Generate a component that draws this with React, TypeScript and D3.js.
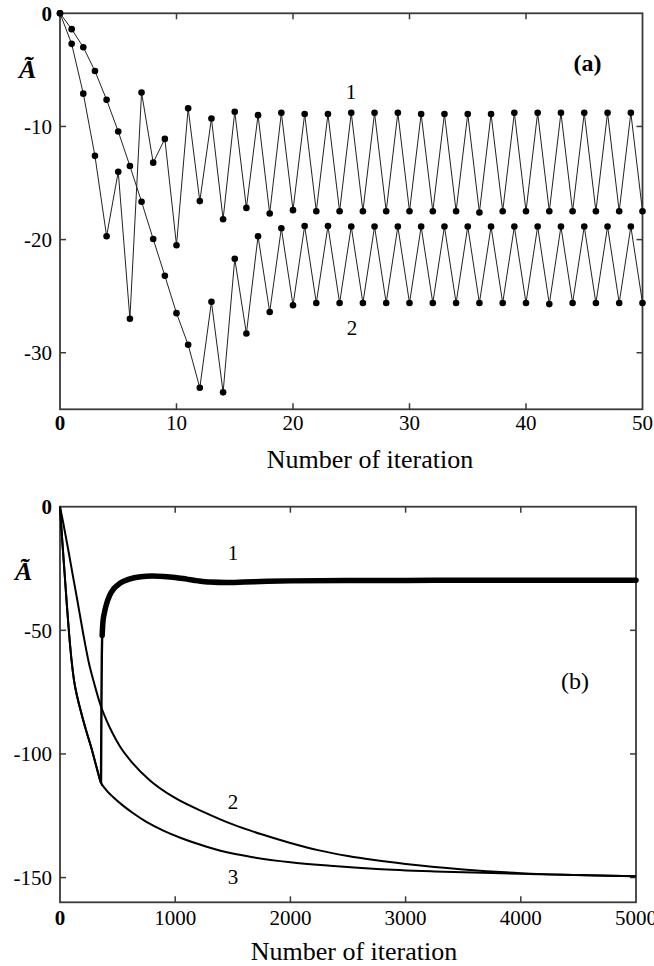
import React from 'react';
import * as d3 from 'd3';

const FONT = "'Liberation Serif', 'Times New Roman', serif";

// panel (a): value of A~ at iterations 0..50
const curveA1 = [
  0, -2.7, -7.1, -12.6, -19.7, -14.0, -27.0, -7.0, -13.2, -11.1,
  -20.5, -8.4, -16.6, -9.3, -18.2, -8.7, -17.2, -9.0, -17.7, -8.8,
  -17.4, -8.9, -17.5, -8.9, -17.5, -8.8, -17.5, -8.8, -17.5, -8.8,
  -17.5, -8.9, -17.5, -8.9, -17.5, -8.9, -17.6, -8.9, -17.5, -8.8,
  -17.5, -8.8, -17.5, -8.8, -17.5, -8.8, -17.5, -8.8, -17.5, -8.8,
  -17.5,
];
const curveA2 = [
  0, -1.4, -3.0, -5.1, -7.65, -10.45, -13.5, -16.65, -19.95, -23.2,
  -26.5, -29.3, -33.1, -25.5, -33.5, -21.7, -28.3, -19.7, -26.4, -19.0,
  -25.8, -18.8, -25.6, -18.8, -25.6, -18.85, -25.6, -18.85, -25.6, -18.85,
  -25.6, -18.85, -25.6, -18.85, -25.6, -18.85, -25.6, -18.85, -25.6, -18.85,
  -25.6, -18.85, -25.7, -18.85, -25.6, -18.85, -25.6, -18.85, -25.6, -18.85,
  -25.6,
];
const ticksAX = [0, 10, 20, 30, 40, 50];
const ticksAY = [0, -10, -20, -30];

// panel (b): [iteration, value]
const curveB3: [number, number][] = [
  [0, 0], [20, -14], [40, -27], [60, -40], [80, -52], [100, -62], [121, -70],
  [150, -77], [188, -84], [230, -91], [275, -98], [315, -105], [350, -111],
  [400, -114.5], [463, -117.5], [550, -121], [636, -124], [750, -127.5],
  [897, -131], [1050, -134], [1273, -137.5], [1500, -140.3], [1677, -141.8],
  [2000, -143.8], [2344, -145.2], [2750, -146.5], [3250, -147.5],
  [3750, -148.2], [4250, -148.8], [4750, -149.3], [5000, -149.5],
];
const curveB2: [number, number][] = [
  [0, 0], [30, -7], [72, -17.5], [110, -27.5], [145, -36.4], [200, -51],
  [250, -63], [300, -72], [350, -80], [400, -86], [450, -91], [521, -97],
  [636, -104], [781, -110.7], [984, -117.4], [1273, -124], [1500, -128.5],
  [1750, -132.5], [2000, -136], [2250, -139], [2500, -141.3], [3000, -144.5],
  [3500, -146.7], [4000, -148.2], [4500, -149], [5000, -149.5],
];
// curve 1 follows curve 3, then jumps
const curveB1Jump: [number, number][] = [
  [350, -111], [356, -111.5], [358, -95], [360, -78], [363, -60], [367, -50],
];
const curveB1: [number, number][] = [
  [366, -52], [372, -47], [385, -43], [400, -40], [430, -36], [470, -33],
  [520, -31], [600, -29.3], [700, -28.3], [800, -28], [900, -28.2],
  [1000, -28.6], [1100, -29.3], [1200, -30], [1300, -30.5], [1450, -30.7],
  [1600, -30.5], [1800, -30.2], [2000, -30], [2500, -29.8], [3000, -29.8],
  [3500, -29.7], [4000, -29.7], [4500, -29.7], [5000, -29.7],
];
const ticksBX = [0, 1000, 2000, 3000, 4000, 5000];
const ticksBY = [0, -50, -100, -150];

type Sc = d3.ScaleLinear<number, number>;

function Frame({ x, y, xTicks, yTicks, xLabelY, title, titleX, titleY }: {
  x: Sc; y: Sc; xTicks: number[]; yTicks: number[];
  xLabelY: number; title: string; titleX: number; titleY: number;
}) {
  const [x0, x1] = x.range();
  const [y0, y1] = y.range(); // bottom, top
  const tl = 6;
  const inner = xTicks.slice(1, -1);
  const innerY = yTicks.filter((v) => v !== 0);
  return (
    <g>
      <rect x={x0} y={y1} width={x1 - x0} height={y0 - y1}
        fill="none" stroke="#3a3a3a" strokeWidth={1.8} />
      {inner.map((t) => (
        <g key={'xt' + t} stroke="#3a3a3a" strokeWidth={1.5}>
          <line x1={x(t)} x2={x(t)} y1={y0} y2={y0 - tl} />
          <line x1={x(t)} x2={x(t)} y1={y1} y2={y1 + tl} />
        </g>
      ))}
      {innerY.map((t) => (
        <g key={'yt' + t} stroke="#3a3a3a" strokeWidth={1.5}>
          <line x1={x0} x2={x0 + tl} y1={y(t)} y2={y(t)} />
          <line x1={x1} x2={x1 - tl} y1={y(t)} y2={y(t)} />
        </g>
      ))}
      {xTicks.map((t) => (
        <text key={'xl' + t} x={x(t)} y={xLabelY} textAnchor="middle"
          fontSize={21} fontWeight={t === 0 ? 'bold' : 'normal'}>{t}</text>
      ))}
      {yTicks.map((t) => (
        <text key={'yl' + t} x={x0 - 8} y={y(t)} dy="0.35em" textAnchor="end"
          fontSize={21} fontWeight={t === 0 ? 'bold' : 'normal'}>
          {t === 0 ? '0' : '-' + Math.abs(t)}
        </text>
      ))}
      <text x={titleX} y={titleY} textAnchor="middle" fontSize={26}>{title}</text>
    </g>
  );
}

export default function App() {
  // panel (a)
  const xa = d3.scaleLinear().domain([0, 50]).range([60, 642.5]);
  const ya = d3.scaleLinear().domain([-35, 0]).range([409.3, 13.3]);
  const lineA = d3.line<number>().x((_, i) => xa(i)).y((d) => ya(d));

  // panel (b)
  const xb = d3.scaleLinear().domain([0, 5000]).range([60, 636]);
  const yb = d3.scaleLinear().domain([-160, 0]).range([902.3, 506.7]);
  const lineB = d3.line<[number, number]>()
    .x((d) => xb(d[0])).y((d) => yb(d[1])).curve(d3.curveMonotoneX);
  const lineBLin = d3.line<[number, number]>()
    .x((d) => xb(d[0])).y((d) => yb(d[1]));

  const pre = curveB3.filter((d) => d[0] <= 350);

  return (
    <svg width={654} height={966} fontFamily={FONT}
      style={{ position: 'absolute', left: 0, top: 0, background: '#fff' }}>
      <Frame x={xa} y={ya} xTicks={ticksAX} yTicks={ticksAY} xLabelY={430}
        title="Number of iteration" titleX={370} titleY={468} />
      {[curveA1, curveA2].map((c, k) => (
        <g key={'a' + k}>
          <path d={lineA(c) ?? ''} fill="none" stroke="#222" strokeWidth={1} />
          {c.map((v, i) => (
            <circle key={i} cx={xa(i)} cy={ya(v)} r={3.3} fill="#000" />
          ))}
        </g>
      ))}
      <text x={351} y={91.7} dy="0.35em" textAnchor="middle" fontSize={21}>1</text>
      <text x={352} y={328} dy="0.35em" textAnchor="middle" fontSize={21}>2</text>
      <text x={587.5} y={63} dy="0.35em" textAnchor="middle" fontSize={24} fontWeight="bold">(a)</text>
      <text x={19} y={78} fontSize={26} fontStyle="italic" fontWeight="bold">Ã</text>

      <Frame x={xb} y={yb} xTicks={ticksBX} yTicks={ticksBY} xLabelY={925}
        title="Number of iteration" titleX={354} titleY={960} />
      <path d={lineB(curveB3) ?? ''} fill="none" stroke="#000" strokeWidth={2} />
      <path d={lineB(curveB2) ?? ''} fill="none" stroke="#000" strokeWidth={2} />
      <path d={lineB(pre) ?? ''} fill="none" stroke="#000" strokeWidth={2} />
      <path d={lineBLin(curveB1Jump) ?? ''} fill="none" stroke="#000" strokeWidth={2.4} />
      <path d={lineB(curveB1) ?? ''} fill="none" stroke="#000" strokeWidth={5.5}
        strokeLinecap="round" />
      <text x={233} y={553} dy="0.35em" textAnchor="middle" fontSize={21}>1</text>
      <text x={233} y={801.7} dy="0.35em" textAnchor="middle" fontSize={21}>2</text>
      <text x={233} y={876.7} dy="0.35em" textAnchor="middle" fontSize={21}>3</text>
      <text x={575} y={681} dy="0.35em" textAnchor="middle" fontSize={24}>(b)</text>
      <text x={15} y={580} fontSize={26} fontStyle="italic" fontWeight="bold">Ã</text>
    </svg>
  );
}
